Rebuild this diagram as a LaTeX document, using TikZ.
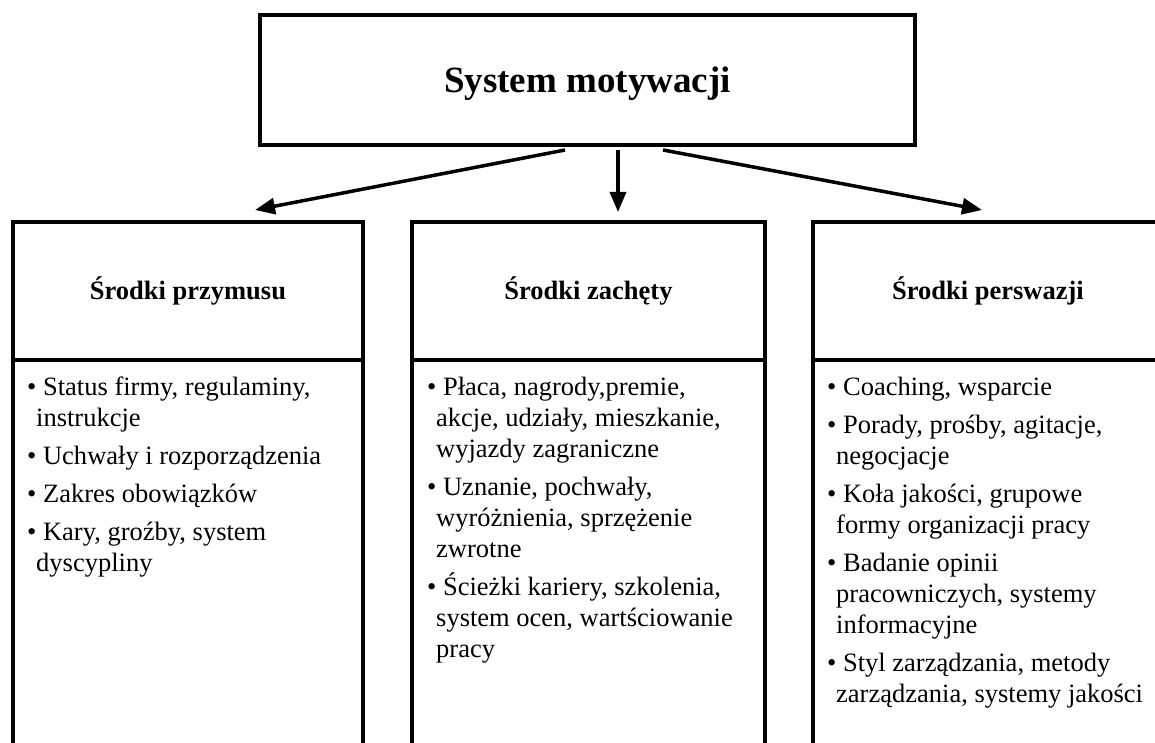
\documentclass[tikz,border=0pt]{standalone}
\usepackage{fontspec}
\setmainfont{Liberation Serif}
\usetikzlibrary{arrows.meta,calc}

% continuation line of a bullet item, and the gap before the next item
\newcommand\contline{\\\hspace*{9pt}}
\newcommand\nextitem{\\[7pt]}

\tikzset{
  frame/.style={draw=black, line width=4.5pt, rectangle, inner sep=0pt, outer sep=0pt},
  titlebox/.style={frame, line width=4pt, minimum width=655pt, minimum height=130pt,
    text height=26pt, text depth=0pt,
    font=\bfseries\fontsize{37}{44}\selectfont},
  headbox/.style={frame, minimum width=350pt, minimum height=138pt,
    font=\bfseries\fontsize{26.5}{31}\selectfont},
  listbox/.style={frame, minimum width=350pt, minimum height=440pt, anchor=north},
  itemtext/.style={anchor=base west, inner sep=0pt, font=\fontsize{26.5}{31}\selectfont},
  link/.style={line width=3.5pt, -{Triangle[length=20pt,width=16pt]}},
}

\begin{document}
\begin{tikzpicture}[x=1pt,y=-1pt]
\useasboundingbox (0,0) rectangle (1155,743);
\clip (0,0) rectangle (1155,743);

% main box
\node[titlebox] (sys) at (587.5,80) {System motywacji};

% column headers
\node[headbox] (hL) at (188,291) {Środki przymusu};
\node[headbox, minimum width=353pt] (hM) at (588.5,291) {Środki zachęty};
\node[headbox] (hR) at (988,291) {Środki perswazji};

% column bodies (run past the lower edge)
\node[listbox] (lL) at (hL.south) {};
\node[listbox, minimum width=353pt] (lM) at (hM.south) {};
\node[listbox] (lR) at (hR.south) {};

% bullet lists
\node[itemtext] (tL) at ($(lL.north west)+(14,35)$) {\parbox[t]{330pt}{%
• Status firmy, regulaminy,\contline instrukcje\nextitem
• Uchwały i rozporządzenia\nextitem
• Zakres obowiązków\nextitem
• Kary, groźby, system\contline dyscypliny}};

\node[itemtext] (tM) at ($(lM.north west)+(15,35)$) {\parbox[t]{330pt}{%
• Płaca, nagrody,premie,\contline akcje, udziały, mieszkanie,\contline wyjazdy zagraniczne\nextitem
• Uznanie, pochwały,\contline wyróżnienia, sprzężenie\contline zwrotne\nextitem
• Ścieżki kariery, szkolenia,\contline system ocen, wartściowanie\contline pracy}};

\node[itemtext] (tR) at ($(lR.north west)+(14,35)$) {\parbox[t]{330pt}{%
• Coaching, wsparcie\nextitem
• Porady, prośby, agitacje,\contline negocjacje\nextitem
• Koła jakości, grupowe\contline formy organizacji pracy\nextitem
• Badanie opinii\contline pracowniczych, systemy\contline informacyjne\nextitem
• Styl zarządzania, metody\contline zarządzania, systemy jakości}};

% arrow tips just above the column headers
\coordinate (tipL) at ($(hL.north west)+(242,-12)$);
\coordinate (tipM) at ($(hM.north west)+(206,-10)$);
\coordinate (tipR) at ($(hR.north west)+(169,-12)$);

\draw[link] ($(sys.south west)+(305,5)$) -- (tipL);
\draw[link] ($(sys.south west)+(358,5)$) -- (tipM);
\draw[link] ($(sys.south west)+(403,5)$) -- (tipR);
\end{tikzpicture}
\end{document}
